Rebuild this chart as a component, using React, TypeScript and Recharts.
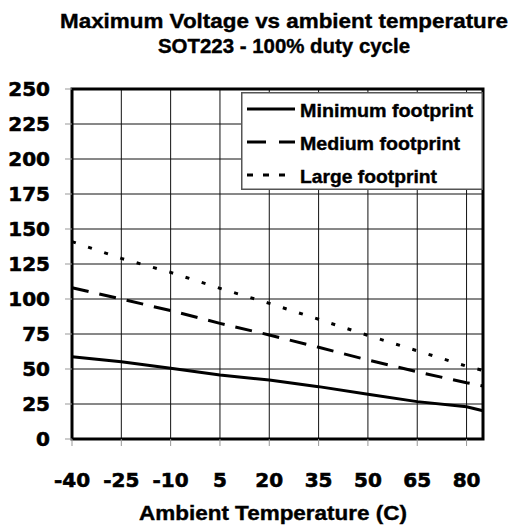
import React from 'react';
import { LineChart, Line, XAxis, YAxis, CartesianGrid, ReferenceArea, Legend } from 'recharts';

const temperatures = [-40, -25, -10, 5, 20, 35, 50, 65, 80, 85];
const minimumFootprint = [58.8, 55.2, 50.5, 45.7, 42.1, 37.4, 31.9, 26.7, 23, 20.2];
const mediumFootprint = [108, 100, 91.7, 82.6, 74.3, 65.5, 56.4, 48, 40.2, 37.9];
const largeFootprint = [141, 129, 119, 107.6, 96.9, 85.5, 74, 63, 52, 49];
const xTicks = [-40, -25, -10, 5, 20, 35, 50, 65, 80];
const yTicks = [0, 25, 50, 75, 100, 125, 150, 175, 200, 225, 250];
const seriesNames = ['Minimum footprint', 'Medium footprint', 'Large footprint'];
const seriesDashes = ['', '17 11', '4 13'];
const legendDashes = ['', '19 13', '6 10'];
const titleLines = ['Maximum Voltage vs ambient temperature', 'SOT223 - 100% duty cycle'];
const xAxisTitle = 'Ambient Temperature (C)';

const data = temperatures.map((t, i) => ({
  t,
  min: minimumFootprint[i],
  med: mediumFootprint[i],
  large: largeFootprint[i],
}));

const TICK_FONT = '"DejaVu Sans", sans-serif';
const TEXT_FONT = '"Liberation Sans", Arial, sans-serif';
const legendTextLengths = [173, 160, 137];

const XTick = (props: any) => {
  const { x, y, payload } = props;
  return (
    <text x={x} y={y + 39} textAnchor="middle" fontFamily={TICK_FONT} fontWeight="bold" fontSize={20} fill="#000" stroke="#000" strokeWidth={0.6}>
      {payload.value}
    </text>
  );
};

const YTick = (props: any) => {
  const { x, y, payload } = props;
  return (
    <text x={x - 13} y={y + 7} textAnchor="end" fontFamily={TICK_FONT} fontWeight="bold" fontSize={20} fill="#000" stroke="#000" strokeWidth={0.6}>
      {payload.value}
    </text>
  );
};

const renderLegend = () => (
  <svg width={243} height={99} style={{ display: 'block' }}>
    <rect x={0.75} y={0.75} width={240.5} height={96.5} fill="#fff" stroke="#555" strokeWidth={1.5} />
    {seriesNames.map((name, i) => {
      const cy = 17 + i * 33;
      return (
        <g key={name}>
          <line x1={6} x2={54} y1={cy} y2={cy} stroke="#000" strokeWidth={3} strokeDasharray={legendDashes[i] || undefined} />
          <text
            x={59}
            y={cy + 8}
            fontFamily={TEXT_FONT}
            fontWeight="bold"
            fontSize={19}
            fill="#000"
            stroke="#000"
            strokeWidth={0.4}
            textLength={legendTextLengths[i]}
            lengthAdjust="spacingAndGlyphs"
          >
            {name}
          </text>
        </g>
      );
    })}
  </svg>
);

export default function App() {
  return (
    <div style={{ position: 'absolute', left: 0, top: 0, width: 513, height: 527, background: '#fff' }}>
      <LineChart width={513} height={527} data={data} margin={{ top: 89, right: 30, bottom: 0, left: 0 }}>
        <CartesianGrid stroke="#111" strokeWidth={1} />
        <XAxis
          dataKey="t"
          type="number"
          domain={[-40, 85]}
          ticks={xTicks}
          height={88}
          axisLine={false}
          tickLine={{ stroke: '#999' }}
          tickSize={7}
          tickMargin={2}
          tick={<XTick />}
          interval={0}
        />
        <YAxis
          type="number"
          domain={[0, 250]}
          ticks={yTicks}
          width={72}
          axisLine={false}
          tickLine={{ stroke: '#999' }}
          tickSize={7}
          tickMargin={2}
          tick={<YTick />}
          interval={0}
        />
        <Line dataKey="min" name={seriesNames[0]} type="linear" stroke="#000" strokeWidth={3} dot={false} isAnimationActive={false} />
        <Line dataKey="med" name={seriesNames[1]} type="linear" stroke="#000" strokeWidth={3} strokeDasharray={seriesDashes[1]} dot={false} isAnimationActive={false} />
        <Line dataKey="large" name={seriesNames[2]} type="linear" stroke="#000" strokeWidth={3} strokeDasharray={seriesDashes[2]} dot={false} isAnimationActive={false} />
        <ReferenceArea x1={-40} x2={85} y1={0} y2={250} fill="none" stroke="#000" strokeWidth={3} ifOverflow="visible" />
        <Legend
          layout="horizontal"
          verticalAlign="middle"
          align="center"
          content={renderLegend}
          wrapperStyle={{ position: 'absolute', left: 241, top: 92, width: 243, height: 99 }}
        />
      </LineChart>
      <svg width={513} height={527} style={{ position: 'absolute', left: 0, top: 0, pointerEvents: 'none' }}>
        <text x={284} y={28} textAnchor="middle" fontFamily={TEXT_FONT} fontWeight="bold" fontSize={21} fill="#000" stroke="#000" strokeWidth={0.4} textLength={448} lengthAdjust="spacingAndGlyphs">
          {titleLines[0]}
        </text>
        <text x={284} y={53} textAnchor="middle" fontFamily={TEXT_FONT} fontWeight="bold" fontSize={21} fill="#000" stroke="#000" strokeWidth={0.4} textLength={252} lengthAdjust="spacingAndGlyphs">
          {titleLines[1]}
        </text>
        <text x={273} y={520} textAnchor="middle" fontFamily={TEXT_FONT} fontWeight="bold" fontSize={21} fill="#000" stroke="#000" strokeWidth={0.4} textLength={268} lengthAdjust="spacingAndGlyphs">
          {xAxisTitle}
        </text>
      </svg>
    </div>
  );
}
